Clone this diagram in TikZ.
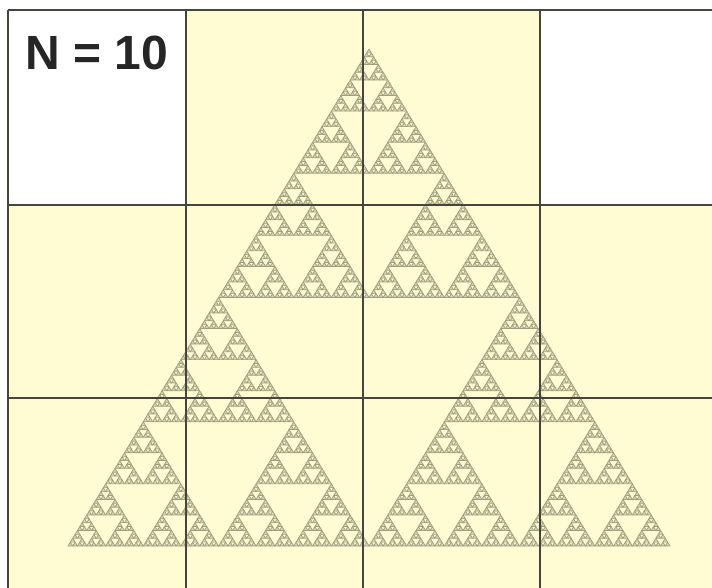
\documentclass[tikz,border=0pt]{standalone}
\usepackage{fontspec}
\setsansfont{Liberation Sans}
\usetikzlibrary{positioning}

\definecolor{cream}{HTML}{FFFBD2}
\definecolor{olive}{HTML}{A09E7E}
\definecolor{olivefill}{HTML}{D6D3B0}
\definecolor{gridgray}{HTML}{45453E}

% recursive triangle: depth, left base x, base y, base width
\newcommand\sierpinski[4]{%
  \ifnum#1=0\relax
    \filldraw[fractal] (#2,#3) -- ++(#4,0) -- ++({-#4/2},{-0.8256*#4}) -- cycle;
  \else
    \begingroup
    \pgfmathsetmacro\sdepth{int(#1-1)}%
    \pgfmathsetmacro\shalf{#4/2}%
    \pgfmathsetmacro\sxr{#2+#4/2}%
    \pgfmathsetmacro\sxt{#2+#4/4}%
    \pgfmathsetmacro\syt{#3-0.8256*#4/2}%
    \edef\snext{\noexpand\sierpinski{\sdepth}{#2}{#3}{\shalf}%
      \noexpand\sierpinski{\sdepth}{\sxr}{#3}{\shalf}%
      \noexpand\sierpinski{\sdepth}{\sxt}{\syt}{\shalf}}%
    \snext
    \endgroup
  \fi}

\begin{document}
\begin{tikzpicture}[
  x=1pt, y=-1pt,
  gridline/.style={draw=gridgray, line width=1.8pt},
  whitecell/.style={fill=white},
  fractal/.style={fill=olivefill, draw=olive, line width=0.7pt, line join=round},
  label/.style={font=\sffamily\bfseries\fontsize{48}{48}\selectfont, text=black!85, inner sep=0pt}
]
\useasboundingbox (0,0) rectangle (712,588);
\fill[white] (0,0) rectangle (712,588);
\fill[cream] (8,10) rectangle (712,588);
\fill[whitecell] (8,10) rectangle (186,205);
\fill[whitecell] (540,10) rectangle (712,205);

% fractal
\sierpinski{7}{68}{546}{602}

% grid
\foreach \gx in {8,186,363,540}
  \draw[gridline] (\gx,10) -- (\gx,588);
\foreach \gy in {10,205,398}
  \draw[gridline] (8,\gy) -- (712,\gy);

\node[label] (count) at (97,53) {N = 10};
\end{tikzpicture}
\end{document}
